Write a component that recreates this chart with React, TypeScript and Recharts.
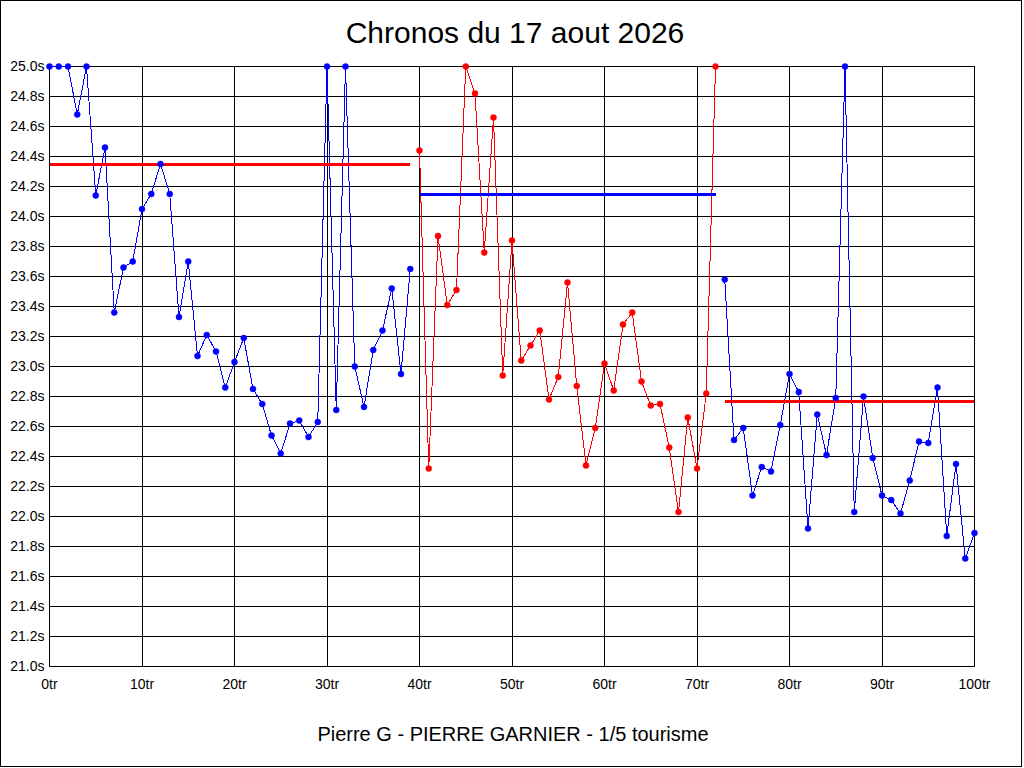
import {
  ComposedChart,
  Line,
  XAxis,
  YAxis,
  CartesianGrid,
} from "recharts";

// lap times in seconds, one array per stint (25.0 = capped)
const stint1 = [
  25.0, 25.0, 25.0, 24.68, 25.0, 24.14, 24.46, 23.36, 23.66, 23.7,
  24.05, 24.15, 24.35, 24.15, 23.33, 23.7, 23.07, 23.21, 23.1, 22.86,
  23.03, 23.19, 22.85, 22.75, 22.54, 22.42, 22.62, 22.64, 22.53, 22.63,
  25.0, 22.71, 25.0, 23.0, 22.73, 23.11, 23.24, 23.52, 22.95, 23.65,
];
const stint2 = [
  24.44, 22.32, 23.87, 23.41, 23.51, 25.0, 24.82, 23.76, 24.66, 22.94,
  23.84, 23.04, 23.14, 23.24, 22.78, 22.93, 23.56, 22.87, 22.34, 22.59,
  23.02, 22.84, 23.28, 23.36, 22.9, 22.74, 22.75, 22.46, 22.03, 22.66,
  22.32, 22.82, 25.0,
];
const stint3 = [
  23.58, 22.51, 22.59, 22.14, 22.33, 22.3, 22.61, 22.95, 22.83, 21.92,
  22.68, 22.41, 22.79, 25.0, 22.03, 22.8, 22.39, 22.14, 22.11, 22.02,
  22.24, 22.5, 22.49, 22.86, 21.87, 22.35, 21.72, 21.89,
];
const stintStart = [0, 40, 73];
const stintMeans = [24.35, 24.15, 22.77];

const xTicks = [0, 10, 20, 30, 40, 50, 60, 70, 80, 90, 100];
const yTicks = [
  21.0, 21.2, 21.4, 21.6, 21.8, 22.0, 22.2, 22.4, 22.6, 22.8, 23.0,
  23.2, 23.4, 23.6, 23.8, 24.0, 24.2, 24.4, 24.6, 24.8, 25.0,
];

const title = "Chronos du 17 aout 2026";
const footer = "Pierre G - PIERRE GARNIER - 1/5 tourisme";

const BLUE = "#0000ff";
const RED = "#ff0000";
const FONT = "'Liberation Sans', Arial, sans-serif";

const stints = [stint1, stint2, stint3];
const stintColors = [BLUE, RED, BLUE];
const meanColors = [RED, BLUE, RED];

const lapData = stints.map((laps, s) =>
  laps.map((t, i) => ({ tour: stintStart[s] + i, temps: t }))
);
const meanData = stints.map((laps, s) => [
  { tour: stintStart[s], temps: stintMeans[s] },
  { tour: stintStart[s] + laps.length - 1, temps: stintMeans[s] },
]);

const fmtY = (v: number) => `${v.toFixed(1)}s`;
const fmtX = (v: number) => `${v}tr`;

// old-school aliased look for grid, axes and series
const css = `
.chrono .recharts-cartesian-grid line,
.chrono .recharts-cartesian-axis-line,
.chrono .recharts-line-curve { shape-rendering: crispEdges; }
`;

export default function App() {
  const tick = { fill: "#000", fontSize: 14, fontFamily: FONT };
  return (
    <div
      className="chrono"
      style={{
        position: "absolute",
        left: 0,
        top: 0,
        width: 1024,
        height: 768,
        background: "#fff",
      }}
    >
      <style>{css}</style>
      <ComposedChart
        width={1024}
        height={768}
        margin={{ top: 66.5, right: 0, bottom: 71.5, left: 0.5 }}
      >
        <CartesianGrid
          yAxisId="left"
          stroke="#000"
          strokeWidth={1}
          verticalValues={xTicks}
        />
        <XAxis
          dataKey="tour"
          type="number"
          domain={[0, 100]}
          ticks={xTicks}
          interval={0}
          tickFormatter={fmtX}
          tick={tick}
          tickLine={false}
          tickSize={6}
          tickMargin={7}
          height={30}
          axisLine={{ stroke: "#000" }}
          allowDuplicatedCategory={false}
        />
        <YAxis
          yAxisId="left"
          type="number"
          domain={[21, 25]}
          ticks={yTicks}
          interval={0}
          tickFormatter={fmtY}
          tick={tick}
          tickLine={false}
          tickSize={0}
          tickMargin={5}
          width={49}
          axisLine={{ stroke: "#000" }}
        />
        <YAxis
          yAxisId="right"
          orientation="right"
          type="number"
          domain={[21, 25]}
          ticks={yTicks}
          interval={0}
          tickFormatter={fmtY}
          tick={tick}
          tickLine={false}
          tickSize={0}
          tickMargin={5}
          width={49.5}
          axisLine={{ stroke: "#000" }}
        />
        {lapData.map((d, s) => (
          <Line
            key={`laps${s}`}
            yAxisId="left"
            data={d}
            dataKey="temps"
            type="linear"
            stroke={stintColors[s]}
            strokeWidth={1}
            dot={{ r: 3, fill: stintColors[s], stroke: stintColors[s], strokeWidth: 0.5 }}
            activeDot={false}
            isAnimationActive={false}
          />
        ))}
        {meanData.map((d, s) => (
          <Line
            key={`mean${s}`}
            yAxisId="left"
            data={d}
            dataKey="temps"
            type="linear"
            stroke={meanColors[s]}
            strokeWidth={3}
            dot={false}
            activeDot={false}
            isAnimationActive={false}
          />
        ))}
      </ComposedChart>
      <svg
        width={1024}
        height={768}
        style={{ position: "absolute", left: 0, top: 0, pointerEvents: "none" }}
      >
        <rect x={0.5} y={0.5} width={1021} height={766} fill="none" stroke="#000" />
        <text x={515} y={43} textAnchor="middle" fontSize={30} fontFamily={FONT} fill="#000">
          {title}
        </text>
        <text x={513} y={741} textAnchor="middle" fontSize={20} fontFamily={FONT} fill="#000">
          {footer}
        </text>
      </svg>
    </div>
  );
}
